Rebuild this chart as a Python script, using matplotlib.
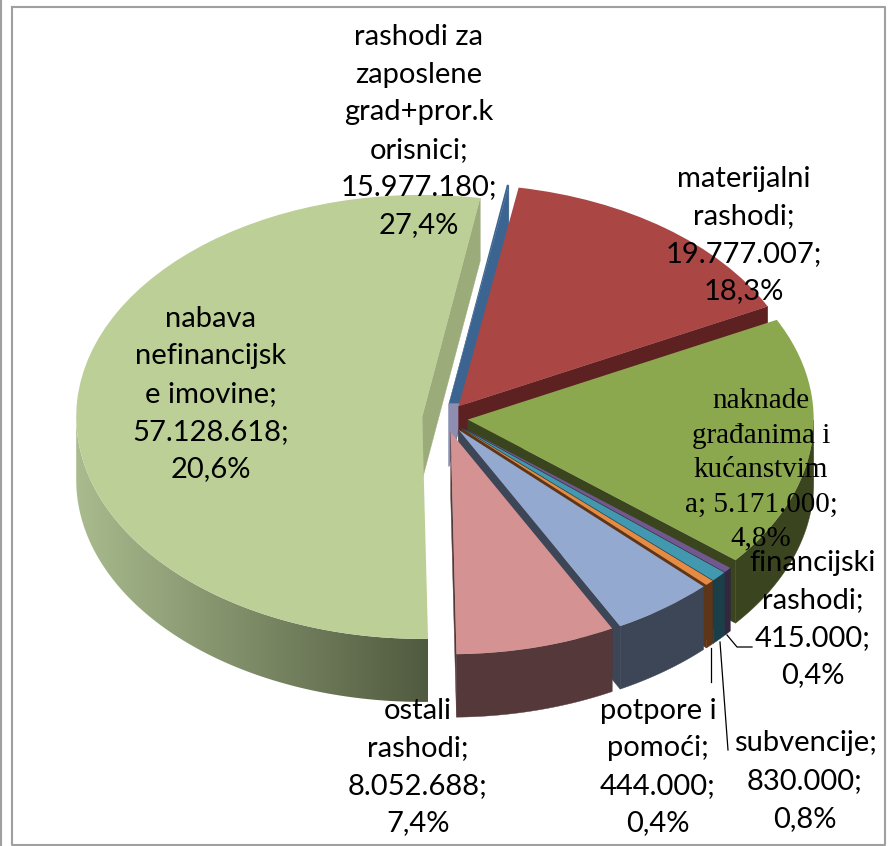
import numpy as np
import matplotlib
matplotlib.use("Agg")
import matplotlib.pyplot as plt
from matplotlib.colors import LinearSegmentedColormap
from matplotlib.patches import Polygon

W, H = 895, 846
# ---- data (clockwise from the top of the pie) ----
names = ["(neoznačeno)", "rashodi za zaposlene", "materijalni rashodi", "financijski rashodi",
         "subvencije", "potpore i pomoći", "naknade građanima", "ostali rashodi", "nabava nefinancijske imovine"]
values = [100000, 15977180, 19777007, 415000, 830000, 444000, 5171000, 8052688, 57128618]
face_colors = ["#3c6490", "#aa4644", "#8ba84f", "#71588f", "#4198af", "#e58b43", "#93a9cf", "#d49292", "#bbcf96"]
wall_colors = ["#3c6490", "#5c2120", "#3a4520", "#33263f", "#1b3f49", "#5f3518", "#3c4656", "#553839", "#9bab7a"]
label_texts = [
    "rashodi za\nzaposlene\ngrad+pror.k\norisnici;\n15.977.180;\n27,4%",
    "materijalni\nrashodi;\n19.777.007;\n18,3%",
    "nabava\nnefinancijsk\ne imovine;\n57.128.618;\n20,6%",
    "financijski\nrashodi;\n415.000;\n0,4%",
    "subvencije;\n830.000;\n0,8%",
    "potpore i\npomoći;\n444.000;\n0,4%",
    "ostali\nrashodi;\n8.052.688;\n7,4%",
]
label_pos = [(419, 131), (744, 235), (211, 394), (813, 619), (805, 781), (658, 767), (418, 767)]
serif_text = "naknade\ngrađanima i\nkućanstvim\na; 5.171.000;\n4,8%"
serif_pos = (761, 470)

# ---- layout ----
CX, CY, RX, RY, DEPTH = 445, 418, 346, 222, 63
plt.rcParams["font.family"] = ["Lato", "DejaVu Sans"]
fig = plt.figure(figsize=(W / 100, H / 100), dpi=100)
ax = fig.add_axes([0, 0, 1, 1])

def px(x, y):
    return (x - CX) / RX, (CY - y) / RY

d = DEPTH / RY
wedges, _ = ax.pie(values, colors=face_colors, explode=[0.066] * len(values), radius=1,
                   startangle=80.35, counterclock=False, wedgeprops=dict(linewidth=0))
ax.set_aspect("auto")
xlim = (-CX / RX, (W - CX) / RX)
ylim = ((CY - H) / RY, CY / RY)
ax.axis("off")

grad = LinearSegmentedColormap.from_list("side", ["#aabb8e", "#505a3f"])
for i, w in enumerate(wedges):
    z = 2 + 2 * i
    w.set_zorder(z + 1)
    cx, cy = w.center
    col = wall_colors[i]
    # radial wall on the clockwise end of the slice
    t = np.deg2rad(w.theta1)
    rim = (cx + np.cos(t), cy + np.sin(t))
    ax.add_patch(Polygon([(cx, cy), rim, (rim[0], rim[1] - d), (cx, cy - d)],
                         closed=True, fc=col, ec=col, lw=0.3, zorder=z))
    # outer wall, front half only
    a1, a2 = w.theta1 % 360, w.theta2 % 360
    if a2 < a1:
        a2 += 360
    ang = np.deg2rad(np.linspace(a1, a2, 400))
    ang = ang[np.sin(ang) < 0]
    if len(ang) < 2:
        continue
    xs, ys = cx + np.cos(ang), cy + np.sin(ang)
    verts = list(zip(xs, ys)) + list(zip(xs[::-1], ys[::-1] - d))
    if i == len(wedges) - 1:
        clip = Polygon(verts, closed=True, transform=ax.transData, fc="none", ec="none")
        ax.add_patch(clip)
        im = ax.imshow(np.linspace(0, 1, 256)[None, :], cmap=grad, aspect="auto", zorder=z,
                       extent=(xs.min(), xs.max(), (ys - d).min(), ys.max()))
        im.set_clip_path(clip)
    else:
        ax.add_patch(Polygon(verts, closed=True, fc=col, ec=col, lw=0.3, zorder=z))

# tinted lower part of the thin slice's wall, below its apex
bx, by = wedges[0].center
ax.add_patch(Polygon([(bx, by), (bx + 16 / RX, by), (bx, by - d)],
                     closed=True, fc="#8f8db0", ec="#8f8db0", lw=0.3, zorder=2.5))

ax.set_aspect("auto")
ax.set_xlim(*xlim)
ax.set_ylim(*ylim)

# ---- labels ----
for txt, p in zip(label_texts, label_pos):
    ax.text(*px(*p), txt, ha="center", va="center", fontsize=21, color="black",
            linespacing=1.55, zorder=50)
ax.text(*px(*serif_pos), serif_text, ha="center", va="center", fontsize=21,
        family="Liberation Serif", color="black", linespacing=1.42, zorder=50)

# ---- leader lines ----
for line in ([(727, 635), (737, 647), (752, 647)], [(711, 648), (711, 682)], [(720, 642), (728, 750)]):
    lx, ly = zip(*[px(*q) for q in line])
    ax.plot(lx, ly, color="black", lw=0.9, zorder=40)

# ---- chart frame ----
fx = [12 / W, 885 / W, 885 / W, 12 / W, 12 / W]
fy = [1 - 7 / H, 1 - 7 / H, 1 - 845 / H, 1 - 845 / H, 1 - 7 / H]
fig.add_artist(plt.Line2D(fx, fy, color="#a0a0a0", lw=1.5))
fig.add_artist(plt.Line2D([1 / W, 1 / W], [0, 1], color="#a0a0a0", lw=1.5))

fig.savefig("out.png", dpi=100)
